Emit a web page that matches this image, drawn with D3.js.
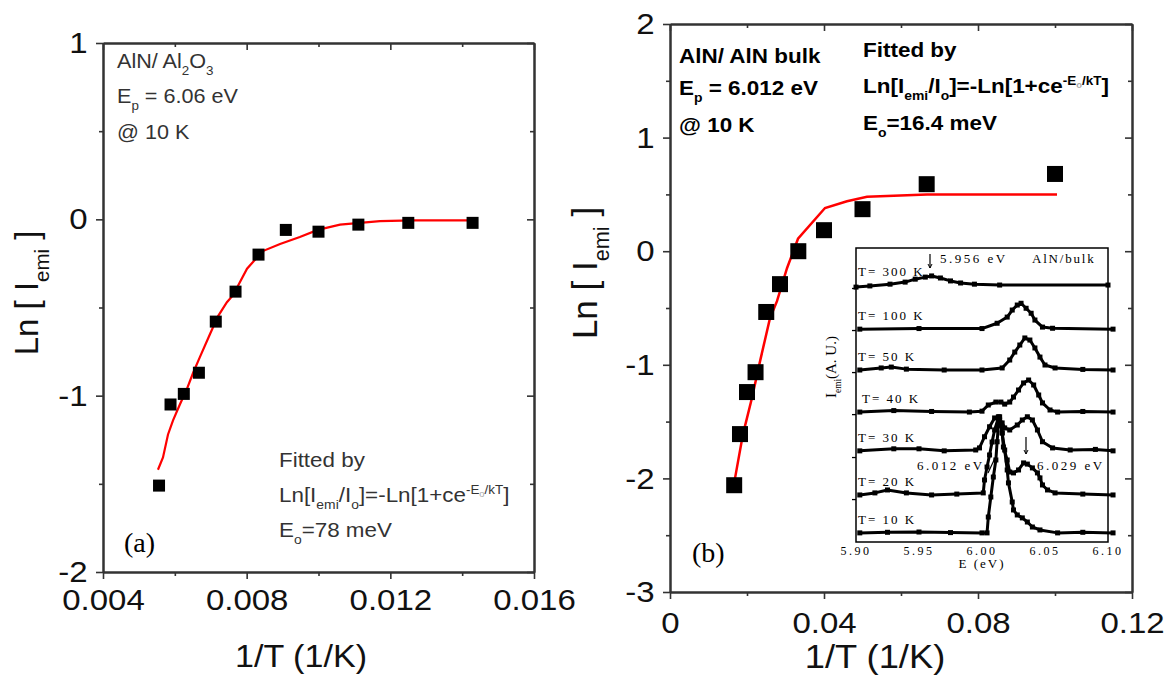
<!DOCTYPE html>
<html>
<head>
<meta charset="utf-8">
<script src="https://cdn.jsdelivr.net/npm/d3@7"></script>
<style>
body { margin: 0; background: #fff; }
svg { display: block; }
text { white-space: pre; }
</style>
</head>
<body>
<div id="chart"></div>
<script>
// ---- panel (a): AlN / Al2O3 ----
var invTA = [0.00556, 0.00588, 0.00625, 0.00667, 0.00714, 0.00769, 0.00833, 0.00909, 0.0100, 0.01111, 0.0125, 0.01429];
var lnIA  = [-1.51, -1.05, -0.99, -0.87, -0.58, -0.41, -0.20, -0.06, -0.07, -0.03, -0.02, -0.02];
// red fit line
var fitXA = [0.00553, 0.00567, 0.00581, 0.00595, 0.00614, 0.00634, 0.00651, 0.00670, 0.00698, 0.00720, 0.00745, 0.00762, 0.00801, 0.00845, 0.00893, 0.00948, 0.00998, 0.01060, 0.01171, 0.01263, 0.01427];
var fitYA = [-1.42, -1.35, -1.22, -1.14, -1.05, -0.96, -0.87, -0.78, -0.65, -0.55, -0.47, -0.43, -0.28, -0.18, -0.14, -0.10, -0.06, -0.03, -0.01, -0.006, -0.006];
var xTicksA = [0.004, 0.008, 0.012, 0.016];
var xMinorA = [0.006, 0.010, 0.014];
var yTicksA = [-2, -1, 0, 1];
var yMinorA = [-1.5, -0.5, 0.5];

// ---- panel (b): AlN / AlN bulk ----
var invTB = [0.01667, 0.01818, 0.0200, 0.02222, 0.0250, 0.02857, 0.03333, 0.0400, 0.0500, 0.06667, 0.1000];
var lnIB  = [-2.06, -1.61, -1.24, -1.065, -0.535, -0.29, 0.0, 0.185, 0.37, 0.59, 0.68];
var fitXB = [0.01688, 0.01896, 0.02130, 0.02338, 0.02597, 0.02779, 0.03039, 0.03325, 0.04026, 0.04597, 0.05117, 0.06675, 0.10052];
var fitYB = [-2.0, -1.61, -1.29, -0.97, -0.59, -0.44, -0.15, 0.11, 0.38, 0.44, 0.48, 0.50, 0.50];
var xTicksB = [0, 0.04, 0.08, 0.12];
var xMinorB = [0.02, 0.06, 0.10];
var yTicksB = [-3, -2, -1, 0, 1, 2];
var yMinorB = [-2.5, -1.5, -0.5, 0.5, 1.5];

// ---- inset: PL spectra (A.U., stacked) ----
var insetLabels  = ["T= 10 K", "T= 20 K", "T= 30 K", "T= 40 K", "T= 50 K", "T= 100 K", "T= 300 K"];
var insetOffsets = [0.31, 1.6, 3.1, 4.42, 5.85, 7.24, 8.74];
var e10  = [5.903, 5.925, 5.950, 5.975, 6.000, 6.004, 6.005, 6.007, 6.009, 6.011, 6.012, 6.013, 6.014, 6.016, 6.018, 6.020, 6.021, 6.024, 6.025, 6.028, 6.032, 6.036, 6.040, 6.046, 6.060, 6.080, 6.104];
var i10  = [0, 0.02, 0.03, 0.01, 0, 0, 0.54, 1.22, 1.90, 2.48, 3.10, 3.67, 3.95, 3.40, 2.82, 2.14, 1.70, 1.05, 0.78, 0.61, 0.51, 0.37, 0.20, 0.10, 0, 0.02, 0];
var e20  = [5.903, 5.915, 5.925, 5.940, 5.960, 5.980, 6.001, 6.002, 6.004, 6.006, 6.008, 6.010, 6.013, 6.014, 6.016, 6.017, 6.020, 6.022, 6.025, 6.029, 6.033, 6.036, 6.040, 6.044, 6.046, 6.048, 6.052, 6.058, 6.080, 6.104];
var i20  = [0, 0.07, 0.17, 0.07, 0, 0.03, 0.07, 0.51, 0.95, 1.36, 1.80, 2.21, 2.62, 2.55, 2.11, 1.63, 1.19, 0.78, 0.75, 0.85, 1.09, 1.05, 0.92, 0.75, 0.58, 0.34, 0.17, 0.07, 0.03, 0];
var e30  = [5.903, 5.930, 5.950, 5.970, 5.995, 5.998, 6.002, 6.006, 6.010, 6.013, 6.016, 6.018, 6.022, 6.028, 6.032, 6.036, 6.040, 6.044, 6.048, 6.056, 6.070, 6.090, 6.104];
var i30  = [0, 0.07, 0.07, 0, 0.03, 0.10, 0.48, 0.82, 1.12, 1.16, 0.95, 0.78, 0.71, 0.88, 1.05, 1.16, 1.05, 0.71, 0.31, 0.10, 0.03, 0.05, 0];
var e40  = [5.903, 5.930, 5.960, 5.990, 6.000, 6.005, 6.011, 6.015, 6.018, 6.022, 6.025, 6.029, 6.033, 6.037, 6.041, 6.045, 6.048, 6.054, 6.060, 6.080, 6.104];
var i40  = [0, 0.05, 0.02, 0, 0.03, 0.24, 0.34, 0.34, 0.27, 0.34, 0.51, 0.75, 0.99, 1.09, 0.92, 0.58, 0.31, 0.07, 0, 0.02, 0];
var e50  = [5.903, 5.920, 5.928, 5.940, 5.970, 6.000, 6.016, 6.022, 6.026, 6.030, 6.034, 6.038, 6.042, 6.046, 6.050, 6.058, 6.080, 6.104];
var i50  = [0, 0.07, 0.10, 0.03, 0, 0, 0.07, 0.34, 0.61, 0.85, 1.09, 1.02, 0.75, 0.44, 0.17, 0.07, 0.02, 0];
var e100 = [5.903, 5.950, 6.000, 6.012, 6.020, 6.024, 6.028, 6.031, 6.035, 6.039, 6.042, 6.048, 6.056, 6.104];
var i100 = [0, 0.02, 0.02, 0.20, 0.41, 0.65, 0.82, 0.88, 0.71, 0.54, 0.31, 0.07, 0.03, 0];
var e300 = [5.900, 5.911, 5.927, 5.939, 5.947, 5.955, 5.960, 5.967, 5.975, 5.983, 5.994, 6.014, 6.100];
var i300 = [-0.07, -0.03, 0.03, 0.10, 0.20, 0.27, 0.31, 0.24, 0.14, 0.07, 0.03, 0, 0];
var insetE = [e10, e20, e30, e40, e50, e100, e300];
var insetI = [i10, i20, i30, i40, i50, i100, i300];
var insetXTicks = [5.90, 5.95, 6.00, 6.05, 6.10];
var insetYTicks = [1.46, 2.89, 4.35, 5.78, 7.21, 8.64];

var W = 1173, H = 681;
var SANS = "'Liberation Sans', Arial, sans-serif";
var SERIF = "'Liberation Serif', 'Times New Roman', serif";
var SX = 1.1; // the original figure is a bit wider than tall

var svg = d3.select("#chart").append("svg").attr("width", W).attr("height", H);

var xA = d3.scaleLinear().domain([0.004, 0.016]).range([103, 534]);
var yA = d3.scaleLinear().domain([-2, 1]).range([572, 43]);
var xB = d3.scaleLinear().domain([0, 0.12]).range([670, 1132]);
var yB = d3.scaleLinear().domain([-3, 2]).range([592, 24]);
var xI = d3.scaleLinear().domain([5.90, 6.10]).range([856, 1108]);
var yI = d3.scaleLinear().domain([0, 10]).range([542, 248]);

// text with sub/superscripts: parts are strings or [text, kind]
// kind: "b" subscript, "p" superscript, "q" tiny subscript inside superscript
function rich(g, x, y, parts, o) {
  var tr = "translate(" + x + "," + y + ")" + (o.rot ? " rotate(-90)" : "") + " scale(" + (o.sx || 1) + ",1)";
  var t = g.append("text").attr("transform", tr)
    .attr("font-family", o.font || SANS).attr("font-size", o.size)
    .attr("font-weight", o.weight || "normal").attr("fill", o.color || "#000")
    .attr("text-anchor", o.anchor || "start");
  var shift = 0;
  parts.forEach(function(p) {
    var s = typeof p === "string" ? [p, "n"] : p;
    var target = 0, fs = o.size;
    if (s[1] === "b") { target = 0.33 * o.size; fs = 0.62 * o.size; }
    if (s[1] === "p") { target = -0.4 * o.size; fs = 0.6 * o.size; }
    if (s[1] === "q") { target = -0.25 * o.size; fs = 0.42 * o.size; }
    var ts = t.append("tspan").attr("dy", target - shift).attr("font-size", fs).text(s[0]);
    if (s[1] === "q") ts.attr("fill", "#aaa");
    shift = target;
  });
  return t;
}

function frame(x, y, xMaj, xMin, yMaj, yMin, xFmt, xPad) {
  var g = svg.append("g");
  var x0 = x.range()[0], x1 = x.range()[1], yb = y.range()[0], yt = y.range()[1];
  g.append("g").attr("transform", "translate(0," + yb + ")")
    .call(d3.axisBottom(x).tickValues(xMaj).tickSize(7).tickSizeOuter(0).tickPadding(xPad).tickFormat(xFmt));
  g.append("g").attr("transform", "translate(0," + yb + ")")
    .call(d3.axisBottom(x).tickValues(xMin).tickSize(4).tickSizeOuter(0).tickFormat(""));
  g.append("g").attr("transform", "translate(0," + yt + ")")
    .call(d3.axisTop(x).tickValues(xMaj).tickSize(-7).tickSizeOuter(0).tickFormat(""));
  g.append("g").attr("transform", "translate(0," + yt + ")")
    .call(d3.axisTop(x).tickValues(xMin).tickSize(-4).tickSizeOuter(0).tickFormat(""));
  g.append("g").attr("transform", "translate(" + x0 + ",0)")
    .call(d3.axisLeft(y).tickValues(yMaj).tickSize(7).tickSizeOuter(0).tickPadding(7).tickFormat(function(d) { return String(d); }));
  g.append("g").attr("transform", "translate(" + x0 + ",0)")
    .call(d3.axisLeft(y).tickValues(yMin).tickSize(4).tickSizeOuter(0).tickFormat(""));
  g.append("g").attr("transform", "translate(" + x1 + ",0)")
    .call(d3.axisRight(y).tickValues(yMaj).tickSize(-7).tickSizeOuter(0).tickFormat(""));
  g.append("g").attr("transform", "translate(" + x1 + ",0)")
    .call(d3.axisRight(y).tickValues(yMin).tickSize(-4).tickSizeOuter(0).tickFormat(""));
  g.selectAll(".domain").attr("stroke", "#333").attr("stroke-width", 2);
  g.selectAll(".tick line").attr("stroke", "#333").attr("stroke-width", 1.6);
  g.selectAll(".tick text").attr("font-family", SANS).attr("font-size", 30)
    .attr("fill", "#111").attr("transform", "scale(" + SX + ",1)");
  return g;
}

// ===== panel (a) =====
frame(xA, yA, xTicksA, xMinorA, yTicksA, yMinorA, d3.format(".3f"), 10);

svg.append("path").datum(d3.zip(fitXA, fitYA))
  .attr("fill", "none").attr("stroke", "#ff0000").attr("stroke-width", 2.2)
  .attr("d", d3.line().x(function(d) { return xA(d[0]); }).y(function(d) { return yA(d[1]); }));

svg.append("g").selectAll("rect").data(d3.zip(invTA, lnIA)).join("rect")
  .attr("x", function(d) { return xA(d[0]) - 6; })
  .attr("y", function(d) { return yA(d[1]) - 6; })
  .attr("width", 12).attr("height", 12).attr("fill", "#000");

var grayA = {size: 20, sx: 1.08, color: "#333"};
rich(svg, 117, 68, ["AlN/ Al", ["2", "b"], "O", ["3", "b"]], grayA);
rich(svg, 117, 103, ["E", ["p", "b"], " = 6.06 eV"], grayA);
rich(svg, 117, 139, ["@ 10 K"], grayA);
var grayA2 = {size: 20, sx: 1.12, color: "#333"};
rich(svg, 279, 467, ["Fitted by"], grayA2);
rich(svg, 279, 502, ["Ln[I", ["emi", "b"], "/I", ["o", "b"], "]=-Ln[1+ce", ["-E", "p"], ["o", "q"], ["/kT", "p"], "]"], grayA2);
rich(svg, 279, 537, ["E", ["o", "b"], "=78 meV"], grayA2);
rich(svg, 124, 552, ["(a)"], {size: 28, font: SERIF});

rich(svg, 38, 293, ["Ln [ I", ["emi", "b"], " ]"], {size: 33, rot: true, anchor: "middle", color: "#111"});
rich(svg, 301, 667, ["1/T (1/K)"], {size: 31, sx: SX, anchor: "middle", color: "#111"});

// ===== panel (b) =====
frame(xB, yB, xTicksB, xMinorB, yTicksB, yMinorB, function(d) { return d === 0 ? "0" : d3.format(".2f")(d); }, 13);

svg.append("path").datum(d3.zip(fitXB, fitYB))
  .attr("fill", "none").attr("stroke", "#ff0000").attr("stroke-width", 2.5)
  .attr("d", d3.line().x(function(d) { return xB(d[0]); }).y(function(d) { return yB(d[1]); }));

svg.append("g").selectAll("rect").data(d3.zip(invTB, lnIB)).join("rect")
  .attr("x", function(d) { return xB(d[0]) - 8; })
  .attr("y", function(d) { return yB(d[1]) - 8; })
  .attr("width", 16).attr("height", 16).attr("fill", "#000");

var boldB = {size: 21, sx: 1.07, weight: "bold"};
rich(svg, 679, 63, ["AlN/ AlN bulk"], boldB);
rich(svg, 679, 95, ["E", ["p", "b"], " = 6.012 eV"], boldB);
rich(svg, 679, 132, ["@ 10 K"], boldB);
rich(svg, 863, 57, ["Fitted by"], boldB);
rich(svg, 863, 93, ["Ln[I", ["emi", "b"], "/I", ["o", "b"], "]=-Ln[1+ce", ["-E", "p"], ["o", "q"], ["/kT", "p"], "]"], boldB);
rich(svg, 863, 130, ["E", ["o", "b"], "=16.4 meV"], boldB);
rich(svg, 692, 562, ["(b)"], {size: 28, font: SERIF});

rich(svg, 597, 273, ["Ln [ I", ["emi", "b"], " ]"], {size: 35, rot: true, anchor: "middle", color: "#111"});
rich(svg, 875, 668, ["1/T (1/K)"], {size: 33, sx: SX, anchor: "middle", color: "#111"});

// ===== inset =====
var gi = svg.append("g");
gi.append("rect").attr("x", xI.range()[0]).attr("y", yI.range()[1])
  .attr("width", xI.range()[1] - xI.range()[0]).attr("height", yI.range()[0] - yI.range()[1])
  .attr("fill", "#fff").attr("stroke", "#000").attr("stroke-width", 1.5);

var yAxI = gi.append("g").attr("transform", "translate(" + xI.range()[0] + ",0)")
  .call(d3.axisLeft(yI).tickValues(insetYTicks).tickSize(4).tickFormat(""));
yAxI.select(".domain").remove();
yAxI.selectAll(".tick line").attr("stroke", "#000").attr("stroke-width", 1.3);

var lineI = d3.line().x(function(d) { return xI(d[0]); }).y(function(d) { return yI(d[1]); });
insetE.forEach(function(es, k) {
  var pts = es.map(function(e, j) { return [e, insetOffsets[k] + insetI[k][j]]; });
  gi.append("path").datum(pts).attr("fill", "none").attr("stroke", "#000")
    .attr("stroke-width", 3).attr("stroke-linejoin", "round").attr("d", lineI);
  gi.append("g").selectAll("rect").data(pts).join("rect")
    .attr("x", function(d) { return xI(d[0]) - 2.5; })
    .attr("y", function(d) { return yI(d[1]) - 2.5; })
    .attr("width", 5).attr("height", 5).attr("fill", "#000");
  gi.append("text").attr("x", k === 3 ? 862 : 858).attr("y", yI(insetOffsets[k]) - 9)
    .attr("font-family", SERIF).attr("font-size", 13).attr("letter-spacing", 2)
    .text(insetLabels[k]);
});

gi.append("g").selectAll("text").data(insetXTicks).join("text")
  .attr("x", function(d) { return xI(d); }).attr("y", 555)
  .attr("text-anchor", "middle").attr("font-family", SERIF).attr("font-size", 12)
  .attr("letter-spacing", 2.5).text(function(d) { return d3.format(".2f")(d); });
gi.append("text").attr("x", xI(6.00)).attr("y", 568).attr("text-anchor", "middle")
  .attr("font-family", SERIF).attr("font-size", 13).attr("letter-spacing", 2).text("E (eV)");
rich(gi, 836, 367, ["I", ["emi", "b"], "(A. U.)"], {size: 15, rot: true, anchor: "middle", font: SERIF});

var txtI = function(x, y, s, ls) {
  gi.append("text").attr("x", x).attr("y", y).attr("font-family", SERIF)
    .attr("font-size", 13).attr("letter-spacing", ls).text(s);
};
txtI(940, 263, "5.956 eV", 2.5);
txtI(1032, 263, "AlN/bulk", 1.8);
txtI(917, 470, "6.012 eV", 2.5);
txtI(1037, 470, "6.029 eV", 2.5);

// little arrows
function arrowDown(x, y0, y1) {
  gi.append("line").attr("x1", x).attr("x2", x).attr("y1", y0).attr("y2", y1)
    .attr("stroke", "#000").attr("stroke-width", 1.2);
  gi.append("path").attr("d", "M" + (x - 2) + "," + (y1 - 4) + "L" + x + "," + y1 + "L" + (x + 2) + "," + (y1 - 4))
    .attr("fill", "none").attr("stroke", "#000").attr("stroke-width", 1);
}
arrowDown(930, 254, 268);
arrowDown(1026, 437, 454);
gi.append("line").attr("x1", 988).attr("y1", 473).attr("x2", 995).attr("y2", 458)
  .attr("stroke", "#000").attr("stroke-width", 1.2);
</script>
</body>
</html>
